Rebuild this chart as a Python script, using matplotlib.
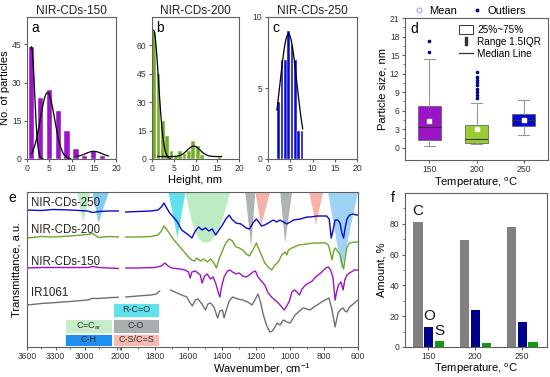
import numpy as np
import matplotlib
matplotlib.use('Agg')
from matplotlib import pyplot as plt
from matplotlib.patches import Patch, Rectangle
from matplotlib.lines import Line2D

plt.rcParams['font.family'] = ['Liberation Sans', 'DejaVu Sans']
plt.rcParams['mathtext.fontset'] = 'custom'
plt.rcParams['mathtext.rm'] = 'Liberation Sans'
plt.rcParams['axes.edgecolor'] = '#606060'
plt.rcParams['axes.linewidth'] = 0.8
plt.rcParams['xtick.color'] = '#606060'
plt.rcParams['ytick.color'] = '#606060'
plt.rcParams['xtick.labelcolor'] = '#333333'
plt.rcParams['ytick.labelcolor'] = '#333333'
plt.rcParams['xtick.labelsize'] = 6.2
plt.rcParams['ytick.labelsize'] = 6.2
plt.rcParams['xtick.major.size'] = 2.5
plt.rcParams['ytick.major.size'] = 2.5
plt.rcParams['xtick.minor.size'] = 1.5
plt.rcParams['ytick.minor.size'] = 1.5
plt.rcParams['xtick.major.pad'] = 1.2
plt.rcParams['ytick.major.pad'] = 1.5

PURPLE = '#9B14C8'
GREEN = '#74AC25'
LGREEN = '#9ACD32'
BLUE = '#0A0ACF'
NAVY = '#00008E'
LABEL_FS = 8

# ---- a/b/c: height histograms
a_centers = [1, 3, 5, 7, 9, 11, 13, 15, 17]
a_counts = [44, 24, 27, 19, 11, 4, 1, 3, 1]
a_fit_mu = [1.0, 4.6, 15.0]
a_fit_amp = [44, 26, 2.2]
a_fit_sigma = [0.7, 1.6, 1.8]
a_fit_base = [0, 0, 0.8]
a_fit_range = [(0.9, 3.6), (1.0, 9.8), (11.0, 18.3)]

b_centers = [0.5, 1.5, 2.5, 3.5, 4.5, 5.5, 6.5, 7.5, 8.5, 9.5, 10.5, 11.5, 15.5]
b_counts = [67, 45, 20, 12, 4, 1.5, 4, 2.5, 4, 9.5, 7, 2, 1]
b_fit_mu = [0.35, 9.6]
b_fit_amp = [68, 5.5]
b_fit_sigma = [1.15, 1.5]
b_fit_base = [0, 1.3]
b_fit_range = [(0.35, 4.2), (1.3, 16.0)]

c_centers = [2.375, 3.125, 3.875, 4.625, 5.375, 6.125, 6.875, 7.625]
c_counts = [4, 7, 7, 9, 8, 7, 2, 2]
c_fit_mu = [4.6]
c_fit_amp = [8.8]
c_fit_sigma = [1.9]
c_fit_base = [0]
c_fit_range = [(2.0, 7.8)]

# ---- d: box plot of particle size
box_temps = [150, 200, 250]
box_low = [0.25, 0.55, 2.0]
box_q1 = [1.25, 0.8, 3.5]
box_med = [3.4, 1.35, 4.5]
box_q3 = [6.7, 3.6, 5.5]
box_high = [14.4, 7.2, 7.7]
box_mean = [4.3, 3.0, 4.5]
box_fliers = [[15.5, 17.2],
              [8.0, 8.5, 9.0, 9.5, 10.1, 10.6, 11.0, 11.5, 12.3],
              []]
box_colors = [PURPLE, LGREEN, BLUE]

# ---- e: FTIR spectra (transmittance, a.u., offset)
wn_left = [3600, 3450, 3326, 3150, 2968, 2916, 2850, 2750, 2640]
t250_left = [137, 136.5, 137.5, 137, 136, 134.5, 135.5, 136, 136]
t200_left = [109, 110.5, 110, 111, 112.5, 113.5, 109.5, 110.5, 110]
t150_left = [79, 79.5, 79.5, 79.5, 79.5, 80.5, 79.5, 79, 78.5]
tir_left = [42, 43.5, 44.3, 45.5, 47, 48.7, 48.5, 49.3, 49.7]

wn_250 = [1970, 1900, 1820, 1780, 1760, 1745, 1735, 1715, 1690, 1665, 1640, 1600, 1580, 1560, 1540,
          1520, 1500, 1480, 1460, 1440, 1420, 1400, 1380, 1360, 1345, 1320, 1290, 1260, 1240, 1220,
          1200, 1185, 1170, 1150, 1120, 1100, 1080, 1060, 1040, 1020, 1000, 980, 940, 900, 880,
          840, 800, 785, 770, 758, 748, 735, 720, 706, 695, 685, 675, 665, 650, 630, 610, 600]
t_250 = [135, 135.5, 136, 137, 140, 144, 141, 135, 130, 125, 117, 112, 109, 116, 120,
         117, 119, 116, 118, 112, 117, 122, 128, 132, 128, 124, 123, 119, 118, 124,
         128, 125, 121, 122, 125, 127, 125, 127, 125, 123, 125, 127, 128, 130, 130,
         131, 131, 131, 128, 109, 116, 127, 127, 124, 114, 109, 120, 128, 132, 133, 132, 132]

wn_200 = [1970, 1900, 1820, 1780, 1760, 1745, 1730, 1710, 1690, 1665, 1640, 1620, 1600, 1580, 1565,
          1550, 1530, 1510, 1490, 1470, 1450, 1435, 1420, 1400, 1380, 1360, 1340, 1320, 1300, 1280,
          1260, 1240, 1220, 1200, 1185, 1170, 1150, 1130, 1110, 1090, 1070, 1050, 1030, 1020, 1010,
          990, 950, 900, 860, 820, 790, 775, 765, 753, 745, 735, 720, 705, 695, 685,
          675, 665, 650, 620, 600]
t_200 = [110, 110, 110.5, 112, 116, 121, 118, 113, 108, 103, 98, 94, 90, 87, 86,
         89, 86, 88, 85, 88, 84, 79, 88, 96, 104, 108, 106, 100, 99, 97,
         93, 91, 97, 104, 98, 92, 84, 80, 77, 82, 85, 92, 95, 92, 97,
         99, 102, 103, 104, 104, 104, 102, 96, 87, 95, 99, 96, 92, 84, 78,
         90, 100, 104, 105, 105]

wn_150 = [1970, 1900, 1800, 1760, 1740, 1720, 1700, 1650, 1620, 1600, 1590, 1580, 1560, 1545, 1530,
          1520, 1505, 1490, 1470, 1455, 1440, 1425, 1415, 1405, 1390, 1370, 1355, 1340, 1320, 1300,
          1280, 1260, 1240, 1220, 1205, 1190, 1170, 1150, 1130, 1110, 1090, 1070, 1050, 1035, 1020,
          1005, 990, 975, 960, 945, 930, 910, 890, 870, 850, 820, 790, 775, 762, 748,
          735, 725, 715, 700, 688, 678, 665, 650, 620, 600]
t_150 = [79, 79, 79.5, 81, 84, 81, 79, 78, 77, 75, 69, 75, 76, 74, 72,
         64, 71, 73, 68, 70, 64, 55, 50, 60, 70, 76, 77, 75, 73, 74,
         71, 70, 72, 75, 76, 70, 66, 62, 54, 50, 47, 44, 40, 37, 41,
         46, 55, 57, 55, 52, 58, 62, 64, 66, 70, 74, 79, 80, 77, 70,
         47, 56, 62, 65, 57, 67, 72, 74, 77, 77]

wn_ir = [1970, 1900, 1820, 1790, 1770, 1765, 1705, 1680, 1640, 1610, 1590, 1577, 1560, 1545, 1520,
         1500, 1485, 1470, 1450, 1428, 1415, 1400, 1390, 1375, 1360, 1340, 1310, 1280, 1250, 1225,
         1205, 1190, 1175, 1160, 1140, 1120, 1105, 1090, 1077, 1059, 1041, 1020, 1000, 971, 945,
         924, 900, 883, 860, 841, 815, 794, 771, 753, 735, 718, 700, 688, 677, 665,
         650, 635, 615, 600]
t_ir = [50, 51, 52, 53, 56, np.nan, 57, 55, 52, 50, 44, 41, 47, 48, 43,
        37, 43, 44, 40, 29, 36, 37, 29, 38, 46, 50, 48, 47, 45, 42,
        48, 53, 45, 33, 22, 15, 16, 20, 24, 22, 27, 25, 24, 32, 36,
        39, 38, 37, 40, 42, 45, 47, 49, 37, 20, 34, 38, 39, 36, 35,
        40, 42, 45, 47]

spec_names = ['NIR-CDs-250', 'NIR-CDs-200', 'NIR-CDs-150', 'IR1061']
spec_label_t = [144, 117, 85, 54]

# absorption bands: (edge wn, edge wn, tip wn, tip depth), colour
bands_left = [((3077, 2937, 3014, 125), '#BDEBC4'),
              ((2919, 2747, 2853, 124), '#86C8F4')]
bands_right = [((1718, 1618, 1665, 109), '#5FE2EE'),
               ((1265, 1206, 1230, 100), '#AEB4B4'),
               ((1206, 1118, 1171, 122), '#F7B2AA'),
               ((1059, 989, 1030, 104), '#AEB4B4'),
               ((889, 806, 847, 122), '#F7B2AA'),
               ((777, 600, 696, 77), '#9ED3F6')]
band_car_wn = [1618, 1600, 1575, 1547, 1520, 1500, 1475, 1453, 1425, 1400, 1353]
band_car_t = [155, 140, 122, 110, 105, 104, 105, 109, 117, 127, 155]

# ---- f: elemental composition
f_temps = ['150', '200', '250']
f_carbon = [81.3, 69.7, 77.6]
f_oxygen = [12.8, 24.3, 16.2]
f_sulfur = [3.6, 2.7, 3.0]


def gauss(x, mu, amp, sig, base):
    return base + amp * np.exp(-(x - mu) ** 2 / (2 * sig ** 2))


def fig_rect(px_left, px_top, px_right, px_bottom, W=550, H=377):
    return [px_left / W, 1 - px_bottom / H, (px_right - px_left) / W, (px_bottom - px_top) / H]


fig = plt.figure(figsize=(5.5, 3.77), dpi=100)

hist_specs = [
    ('NIR-CDs-150', 'a', a_centers, a_counts, 1.15, PURPLE, (a_fit_mu, a_fit_amp, a_fit_sigma, a_fit_base, a_fit_range),
     (0, 55.7), [0, 15, 30, 45], (27, 17, 116, 159)),
    ('NIR-CDs-200', 'b', b_centers, b_counts, 0.85, GREEN, (b_fit_mu, b_fit_amp, b_fit_sigma, b_fit_base, b_fit_range),
     (0, 75), [0, 15, 30, 45, 60], (152, 17, 239, 159)),
    ('NIR-CDs-250', 'c', c_centers, c_counts, 0.6, BLUE, (c_fit_mu, c_fit_amp, c_fit_sigma, c_fit_base, c_fit_range),
     (0, 10), [0, 5, 10], (268, 17, 357, 159)),
]
for title, letter, cen, cnt, w, col, fit, ylim, yticks, box in hist_specs:
    ax = fig.add_axes(fig_rect(*box))
    ax.bar(cen, cnt, width=w, color=col, edgecolor='white', linewidth=0.3)
    for mu, amp, sig, base, (x0, x1) in zip(*fit):
        xs = np.linspace(x0, x1, 120)
        ax.plot(xs, gauss(xs, mu, amp, sig, base), color='black', lw=0.9)
    ax.set_xlim(0, 20)
    ax.set_ylim(*ylim)
    ax.set_xticks([0, 5, 10, 15, 20])
    ax.set_yticks(yticks)
    ax.set_title(title, fontsize=8.5, pad=2.5, color='#222222')
    ax.text(0.05, 0.97, letter, transform=ax.transAxes, fontsize=10, va='top', ha='left')
    if letter == 'a':
        ax.set_ylabel('No. of particles', fontsize=LABEL_FS, labelpad=1)
    if letter == 'b':
        ax.set_xlabel('Height, nm', fontsize=LABEL_FS, labelpad=1)

# ---- d
axd = fig.add_axes(fig_rect(405, 18, 548, 160))
stats = []
for i in range(len(box_temps)):
    stats.append(dict(whislo=box_low[i], q1=box_q1[i], med=box_med[i], q3=box_q3[i],
                      whishi=box_high[i], mean=box_mean[i], fliers=box_fliers[i]))
bp = axd.bxp(stats, positions=box_temps, widths=24, showmeans=True, patch_artist=True,
             boxprops=dict(linewidth=0.5, edgecolor='#555555'),
             whiskerprops=dict(color='#999999', lw=0.8),
             capprops=dict(color='#999999', lw=0.8),
             medianprops=dict(color='#333333', lw=0.8),
             meanprops=dict(marker='s', markerfacecolor='white', markeredgecolor='white', markersize=2.8),
             flierprops=dict(marker='o', markerfacecolor=NAVY, markeredgecolor=NAVY, markersize=1.6))
for patch, col in zip(bp['boxes'], box_colors):
    patch.set_facecolor(col)
axd.set_xlim(124, 276)
axd.set_ylim(-2, 21)
axd.set_yticks(np.arange(0, 22, 3))
axd.set_yticks(np.arange(1.5, 21, 3), minor=True)
axd.set_xticks(box_temps)
axd.set_xticklabels([str(t) for t in box_temps])
axd.set_ylabel('Particle size, nm', fontsize=LABEL_FS, labelpad=2)
axd.set_xlabel('Temperature, $^\\mathregular{o}$C', fontsize=LABEL_FS, labelpad=1)
axd.text(0.04, 0.97, 'd', transform=axd.transAxes, fontsize=10, va='top', ha='left')
top_handles = [Line2D([], [], ls='none', marker='o', mfc='white', mec='#B8B0E8', ms=3.5),
               Line2D([], [], ls='none', marker='o', mfc=NAVY, mec=NAVY, ms=1.8)]
leg1 = axd.legend(top_handles, ['Mean', 'Outliers'], ncol=2, loc='lower center', bbox_to_anchor=(0.45, 0.985),
                  frameon=False, fontsize=8, handletextpad=0.3, columnspacing=1.2, borderaxespad=0, handlelength=1.2)
axd.add_artist(leg1)
in_handles = [Patch(facecolor='white', edgecolor='#333333', lw=0.7),
              Line2D([], [], ls='none', marker='$\\mathregular{I}$', color='#333333', ms=6),
              Line2D([], [], color='#333333', lw=0.9)]
axd.legend(in_handles, ['25%~75%', 'Range 1.5IQR', 'Median Line'], loc='upper right',
           bbox_to_anchor=(1.0, 1.0), frameon=False, fontsize=7.2, handlelength=1.4, handleheight=0.9,
           labelspacing=0.2, handletextpad=0.4, borderaxespad=0.3)

# ---- e (broken wavenumber axis)
axl = fig.add_axes(fig_rect(27, 192, 119, 347))
axr = fig.add_axes(fig_rect(119, 192, 358, 347))
ylim_e = (0, 155)
for (w0, w1, wt, tt), col in bands_left:
    axl.fill([w0, wt, w1], [ylim_e[1], tt, ylim_e[1]], color=col, lw=0, zorder=0)
for (w0, w1, wt, tt), col in bands_right:
    axr.fill([w0, wt, w1], [ylim_e[1], tt, ylim_e[1]], color=col, lw=0, zorder=0)
axr.fill(band_car_wn, band_car_t, color='#BDEBC4', lw=0, zorder=0)

left_series = [t250_left, t200_left, t150_left, tir_left]
right_series = [(wn_250, t_250), (wn_200, t_200), (wn_150, t_150), (wn_ir, t_ir)]
spec_colors = [BLUE, '#6AA82A', PURPLE, '#707070']
for tl, (wr, tr), col in zip(left_series, right_series, spec_colors):
    axl.plot(wn_left, tl, color=col, lw=1.0)
    axr.plot(wr, tr, color=col, lw=1.0)
for name, t in zip(spec_names, spec_label_t):
    axl.text(3560, t, name, fontsize=8.3, va='center', ha='left', color='#222222')

axl.set_xlim(3600, 2640)
axr.set_xlim(2010, 600)
for a in (axl, axr):
    a.set_ylim(*ylim_e)
    a.set_yticks([])
axl.set_xticks([3600, 3300, 3000])
axl.set_xticks([3450, 3150, 2850], minor=True)
axr.set_xticks(np.arange(2000, 599, -200))
axr.set_xticks(np.arange(1900, 600, -200), minor=True)
axl.spines['right'].set_visible(False)
axr.spines['left'].set_visible(False)
axr.tick_params(axis='y', left=False)
axl.set_ylabel('Transmittance, a.u.', fontsize=LABEL_FS, labelpad=4)
fig.text(262 / 550, 1 - 369 / 377, 'Wavenumber, cm$^\\mathregular{-1}$', fontsize=LABEL_FS, ha='center', va='center')
fig.text(12 / 550, 1 - 198 / 377, 'e', fontsize=10, ha='center', va='center')
# break marks
axr.plot([-0.008, 0.004], [-0.02, 0.02], transform=axr.transAxes, color='#606060', lw=0.7, clip_on=False)
axr.plot([0.004, 0.016], [-0.02, 0.02], transform=axr.transAxes, color='#606060', lw=0.7, clip_on=False)

# band legend boxes
band_keys = [((113, 303, 159, 317), '#5FE2EE', 'R-C=O'),
             ((65, 319, 112, 333), '#C6EEC8', 'C=C$_\\mathregular{ar}$'),
             ((113, 319, 159, 333), '#A9AFAF', 'C-O'),
             ((65, 334, 112, 346), '#1C8FEF', 'C-H'),
             ((113, 334, 159, 346), '#F8B9B1', 'C-S/C=S')]
for (x0, y0, x1, y1), col, lab in band_keys:
    r = fig_rect(x0, y0, x1, y1)
    fig.patches.append(Rectangle((r[0], r[1]), r[2], r[3], transform=fig.transFigure,
                                 facecolor=col, edgecolor='white', lw=0.6, zorder=5))
    fig.text(r[0] + r[2] / 2, r[1] + r[3] / 2, lab, fontsize=6.5, ha='center', va='center',
             color='#303030', zorder=6)

# ---- f
axf = fig.add_axes(fig_rect(405, 193, 547, 347))
xf = np.arange(len(f_temps))
offsets = [-0.22, 0.01, 0.24]
f_series = [f_carbon, f_oxygen, f_sulfur]
f_cols = ['#808080', '#00008F', '#139A13']
f_labels = ['C', 'O', 'S']
for off, vals, col, lab in zip(offsets, f_series, f_cols, f_labels):
    axf.bar(xf + off, vals, width=0.2, color=col)
    axf.text(xf[0] + off, vals[0] + 2.5, lab, fontsize=11, ha='center', va='bottom', color='#111111')
axf.set_xlim(-0.5, 2.54)
axf.set_ylim(0, 100)
axf.set_yticks([0, 20, 40, 60, 80])
axf.set_yticks(np.arange(10, 100, 20), minor=True)
axf.set_xticks(xf)
axf.set_xticklabels(f_temps)
axf.set_ylabel('Amount, %', fontsize=LABEL_FS, labelpad=2)
axf.set_xlabel('Temperature, $^\\mathregular{o}$C', fontsize=LABEL_FS, labelpad=0.5)
fig.text(393 / 550, 1 - 198 / 377, 'f', fontsize=10, ha='center', va='center')

fig.savefig('out.png', dpi=100)
